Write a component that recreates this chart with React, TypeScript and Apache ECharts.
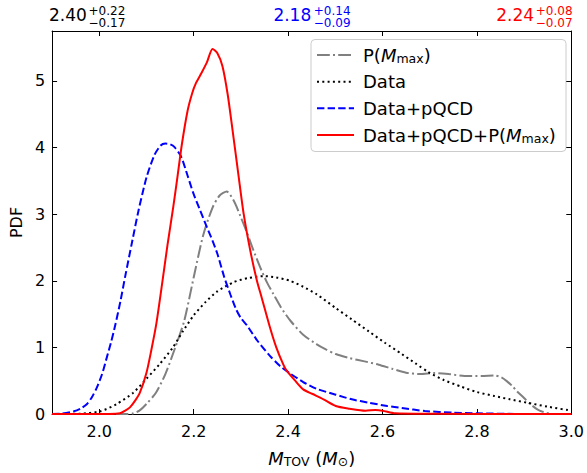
import React, { useEffect, useRef } from "react";
import * as echarts from "echarts";

// ---- data ----
const xTicks = [2.0, 2.2, 2.4, 2.6, 2.8, 3.0];
const yTicks = [0, 1, 2, 3, 4, 5];

const seriesNames = ["P(M_max)", "Data", "Data+pQCD", "Data+pQCD+P(M_max)"];

const priorMmax: [number, number][] = [
  [1.9, 0], [2.06, 0], [2.072, 0.01], [2.085, 0.05], [2.1, 0.15], [2.12, 0.32], [2.14, 0.6],
  [2.16, 0.98], [2.18, 1.4], [2.2, 2.05], [2.22, 2.68], [2.24, 3.1], [2.255, 3.28], [2.27, 3.34],
  [2.285, 3.2], [2.299, 2.97], [2.313, 2.72], [2.327, 2.45], [2.341, 2.2], [2.355, 1.98],
  [2.369, 1.8], [2.385, 1.6], [2.405, 1.4], [2.432, 1.19], [2.46, 1.05], [2.48, 0.97],
  [2.501, 0.9], [2.53, 0.84], [2.562, 0.79], [2.592, 0.74], [2.62, 0.68], [2.65, 0.62],
  [2.68, 0.6], [2.711, 0.615], [2.74, 0.6], [2.774, 0.57], [2.81, 0.57], [2.837, 0.58],
  [2.852, 0.55], [2.864, 0.49], [2.875, 0.42], [2.885, 0.34], [2.9, 0.24], [2.913, 0.15],
  [2.928, 0.07], [2.941, 0.03], [2.96, 0], [3.0, 0],
];

const dataOnly: [number, number][] = [
  [1.9, 0], [1.96, 0.005], [2.002, 0.04], [2.037, 0.15], [2.072, 0.32], [2.1, 0.53],
  [2.128, 0.75], [2.156, 1.0], [2.177, 1.24], [2.2, 1.48], [2.225, 1.68], [2.25, 1.84],
  [2.285, 1.98], [2.315, 2.04], [2.348, 2.07], [2.375, 2.05], [2.404, 2.0], [2.432, 1.91],
  [2.46, 1.8], [2.501, 1.59], [2.535, 1.42], [2.571, 1.24], [2.605, 1.07], [2.641, 0.9],
  [2.67, 0.76], [2.697, 0.63], [2.73, 0.51], [2.767, 0.41], [2.8, 0.33], [2.837, 0.27],
  [2.87, 0.22], [2.906, 0.17], [2.95, 0.11], [3.0, 0.05],
];

const dataPqcd: [number, number][] = [
  [1.9, 0], [1.92, 0.005], [1.946, 0.04], [1.96, 0.08], [1.974, 0.15], [1.985, 0.26],
  [1.995, 0.4], [2.006, 0.6], [2.016, 0.85], [2.025, 1.08], [2.034, 1.34], [2.045, 1.7],
  [2.055, 2.07], [2.07, 2.6], [2.083, 3.05], [2.1, 3.55], [2.117, 3.89], [2.13, 4.03],
  [2.14, 4.06], [2.15, 4.05], [2.159, 4.01], [2.173, 3.87], [2.187, 3.58], [2.2, 3.3],
  [2.213, 3.07], [2.226, 2.84], [2.24, 2.6], [2.25, 2.41], [2.265, 2.05], [2.278, 1.79],
  [2.29, 1.57], [2.3, 1.44], [2.313, 1.33], [2.335, 1.1], [2.362, 0.87], [2.383, 0.72],
  [2.404, 0.61], [2.432, 0.48], [2.46, 0.38], [2.501, 0.29], [2.535, 0.22], [2.571, 0.17],
  [2.61, 0.12], [2.641, 0.09], [2.69, 0.045], [2.75, 0.02], [2.802, 0.01], [2.9, 0], [3.0, 0],
];

const dataPqcdPrior: [number, number][] = [
  [1.9, 0], [2.02, 0], [2.044, 0.01], [2.055, 0.05], [2.065, 0.1], [2.076, 0.2], [2.086, 0.32],
  [2.1, 0.62], [2.11, 0.95], [2.121, 1.36], [2.135, 2.05], [2.145, 2.56], [2.157, 3.12],
  [2.166, 3.58], [2.175, 4.05], [2.187, 4.55], [2.197, 4.82], [2.205, 4.97], [2.215, 5.1],
  [2.228, 5.28], [2.24, 5.48], [2.25, 5.42], [2.261, 5.22], [2.272, 4.8], [2.282, 4.28],
  [2.295, 3.58], [2.306, 3.0], [2.32, 2.45], [2.334, 2.0], [2.344, 1.75], [2.362, 1.29],
  [2.375, 1.0], [2.39, 0.74], [2.397, 0.65], [2.415, 0.5], [2.432, 0.37], [2.452, 0.3],
  [2.475, 0.22], [2.501, 0.12], [2.53, 0.08], [2.564, 0.05], [2.585, 0.06], [2.6, 0.05],
  [2.627, 0.01], [2.7, 0.003], [3.0, 0],
];

// summary statistics shown above the plot
const summaries = [
  { main: "2.40", plus: "+0.22", minus: "\u22120.17", color: "#000000" },
  { main: "2.18", plus: "+0.14", minus: "\u22120.09", color: "#0000ff" },
  { main: "2.24", plus: "+0.08", minus: "\u22120.07", color: "#ff0000" },
];

const FONT = "DejaVu Sans";

export default function App() {
  const ref = useRef<HTMLDivElement>(null);
  useEffect(() => {
    if (!ref.current) return;
    const chart = echarts.init(ref.current, null, { renderer: "svg" });

    const gridLeft = 49, gridRight = 573, gridTop = 31, gridBottom = 420;
    const mainPos = [gridLeft, 273.4, 496.3];
    const supPos = [88.5, 313.8, 535.8];

    const rich = {
      i: { fontStyle: "italic", fontFamily: FONT, fontSize: 18, lineHeight: 20, color: "#000" },
      s: { fontFamily: FONT, fontSize: 12.5, lineHeight: 10, verticalAlign: "bottom", color: "#000" },
      n: { fontFamily: FONT, fontSize: 18, lineHeight: 20, color: "#000" },
    };

    const graphics: any[] = [];
    summaries.forEach((s, i) => {
      graphics.push({
        type: "text", x: mainPos[i], y: 15, silent: true,
        style: { text: s.main, fill: s.color, font: `17px "${FONT}"`, verticalAlign: "middle", align: "left" },
      });
      graphics.push({
        type: "text", x: supPos[i], y: 10.5, silent: true,
        style: { text: s.plus, fill: s.color, font: `12px "${FONT}"`, verticalAlign: "middle", align: "left" },
      });
      graphics.push({
        type: "text", x: supPos[i], y: 23, silent: true,
        style: { text: s.minus, fill: s.color, font: `12px "${FONT}"`, verticalAlign: "middle", align: "left" },
      });
    });

    // legend drawn as graphic elements
    const legendLabels = [
      "{n|P(}{i|M}{s|max}{n|)}",
      "{n|Data}",
      "{n|Data+pQCD}",
      "{n|Data+pQCD+P(}{i|M}{s|max}{n|)}",
    ];
    const legendColors = ["#808080", "#000000", "#0000ff", "#ff0000"];
    const legendDash: any[] = [[12.8, 3.2, 2, 3.2], [2, 3.3], [7.4, 3.2], null];
    const legendRows = [55, 81.7, 108.3, 135];
    const legendChildren: any[] = [
      {
        type: "rect",
        shape: { x: 311, y: 39.5, width: 255, height: 112, r: 4 },
        style: { fill: "rgba(255,255,255,0.8)", stroke: "#cccccc", lineWidth: 1 },
      },
    ];
    legendRows.forEach((yy, i) => {
      legendChildren.push({
        type: "line",
        shape: { x1: 317, y1: yy, x2: 354, y2: yy },
        style: { stroke: legendColors[i], lineWidth: 2, lineDash: legendDash[i] || undefined },
      });
      legendChildren.push({
        type: "text", x: 363, y: yy,
        style: { text: legendLabels[i], rich, verticalAlign: "middle", align: "left", fill: "#000" },
      });
    });
    graphics.push({ type: "group", z: 10, silent: true, children: legendChildren });

    const axisCommon = {
      type: "value",
      axisLine: { show: true, onZero: false, lineStyle: { color: "#000", width: 1 } },
      axisTick: { show: true, inside: true, length: 5, lineStyle: { color: "#000", width: 1 } },
      splitLine: { show: false },
    };

    const mk = (name: string, data: [number, number][], color: string, dash: any, width: number) => ({
      name,
      type: "line",
      data,
      showSymbol: false,
      symbol: "none",
      smooth: 0.25,
      lineStyle: { color, width, type: dash },
      itemStyle: { color },
      z: 2,
    });

    chart.setOption({
      animation: false,
      backgroundColor: "#ffffff",
      textStyle: { fontFamily: FONT },
      grid: {
        left: gridLeft, top: gridTop, width: gridRight - gridLeft, height: gridBottom - gridTop,
        containLabel: false,
      },
      xAxis: [
        {
          ...axisCommon,
          min: 1.9, max: 3.0, position: "bottom",
          axisTick: { ...axisCommon.axisTick, customValues: xTicks },
          axisLabel: {
            customValues: xTicks, margin: 9, color: "#000", fontSize: 16, fontFamily: FONT,
            formatter: (v: number) => v.toFixed(1),
          },
          name: "{i|M}{s|TOV}{n| (}{i|M}{s|\u2299}{n|)}",
          nameLocation: "middle",
          nameGap: 34,
          nameTextStyle: { rich },
        },
        {
          ...axisCommon,
          min: 1.9, max: 3.0, position: "top",
          axisTick: { ...axisCommon.axisTick, customValues: xTicks },
          axisLabel: { show: false },
        },
      ],
      yAxis: [
        {
          ...axisCommon,
          min: 0, max: 5.75, position: "left",
          axisTick: { ...axisCommon.axisTick, customValues: yTicks },
          axisLabel: {
            customValues: yTicks, margin: 7, color: "#000", fontSize: 16, fontFamily: FONT,
            formatter: (v: number) => String(Math.round(v)),
          },
          name: "PDF",
          nameLocation: "middle",
          nameGap: 23,
          nameTextStyle: { color: "#000", fontSize: 16, fontFamily: FONT },
        },
        {
          ...axisCommon,
          min: 0, max: 5.75, position: "right",
          axisTick: { ...axisCommon.axisTick, customValues: yTicks },
          axisLabel: { show: false },
        },
      ],
      legend: { show: false },
      graphic: graphics,
      series: [
        mk(seriesNames[0], priorMmax, "#808080", [12.8, 3.2, 2, 3.2], 2),
        mk(seriesNames[1], dataOnly, "#000000", [2, 3.3], 2),
        mk(seriesNames[2], dataPqcd, "#0000ff", [7.4, 3.2], 2),
        mk(seriesNames[3], dataPqcdPrior, "#ff0000", "solid", 2),
      ],
    });
    return () => chart.dispose();
  }, []);
  return (
    <div
      ref={ref}
      style={{ position: "fixed", left: 0, top: 0, width: 587, height: 473, background: "#fff" }}
    />
  );
}
